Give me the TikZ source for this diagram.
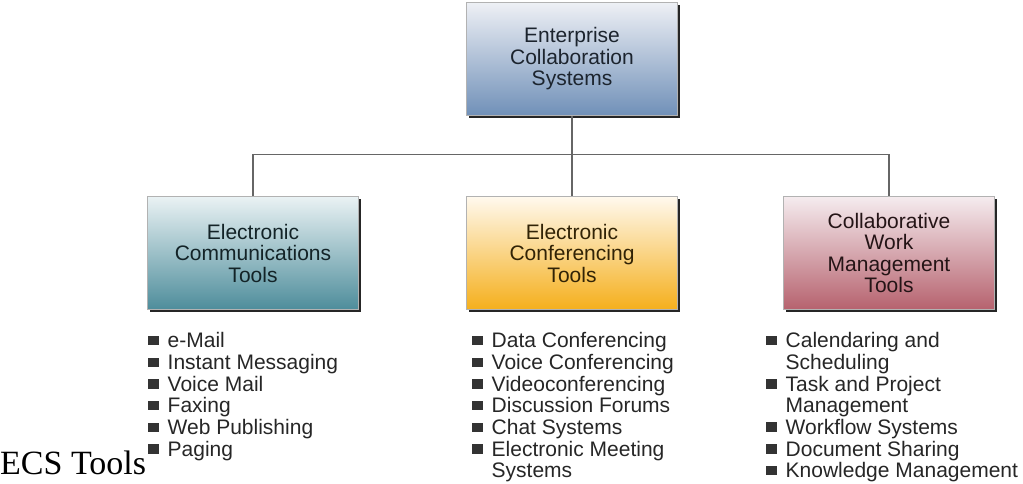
\documentclass[tikz,border=0pt]{standalone}
\usepackage{fontspec}
\setmainfont{Liberation Serif}
\setsansfont{Liberation Sans}
\usetikzlibrary{shadows}

\definecolor{ecstop}{HTML}{EEF0F5}
\definecolor{ecsbot}{HTML}{7090B8}
\definecolor{commtop}{HTML}{EAF2F4}
\definecolor{commbot}{HTML}{4E8D9B}
\definecolor{conftop}{HTML}{FFF9EE}
\definecolor{confbot}{HTML}{F5AF1C}
\definecolor{worktop}{HTML}{F5ECEF}
\definecolor{workbot}{HTML}{B6626E}

\newcommand{\sqbullet}{{\color{black!80}\rule[2.5pt]{10.5pt}{9.5pt}}}

\begin{document}
\begin{tikzpicture}[x=1pt, y=-1pt, box/.style={rectangle, draw=gray!60, line width=0.6pt, minimum width=211pt, minimum height=113pt, align=center, inner sep=0pt, font=\sffamily\fontsize{21}{21.5}\selectfont, drop shadow={shadow xshift=2.5pt, shadow yshift=-2.5pt, opacity=1, fill=black!85}}, itemlist/.style={anchor=north west, inner sep=0pt, font=\sffamily\fontsize{21}{21.5}\selectfont, text=black!85}, link/.style={draw=black!60, line width=1.4pt}]
      \useasboundingbox (0,0) rectangle (1023,483);

      \node[box, top color=ecstop, bottom color=ecsbot, text=ecsbot!25!black] (ecs) at (572,59) {Enterprise\\Collaboration\\Systems};
      \node[box, top color=commtop, bottom color=commbot, text=commbot!25!black] (comm) at (253,253) {Electronic\\Communications\\Tools};
      \node[box, top color=conftop, bottom color=confbot, text=confbot!20!black] (conf) at (572,253) {Electronic\\Conferencing\\Tools};
      \node[box, top color=worktop, bottom color=workbot, text=workbot!20!black] (work) at (889,253) {Collaborative\\Work\\Management\\Tools};

      % tree lines
      \draw[link] (ecs.south) -- (conf.north);
      \draw[link] (comm.north) -- ++(0,-42) -| (work.north);

      % tool lists
      \node[itemlist] (commlist) at (148,332.5) {\begin{tabular}{@{}l@{\hspace{9pt}}l@{}}
        \sqbullet & e-Mail\\
        \sqbullet & Instant Messaging\\
        \sqbullet & Voice Mail\\
        \sqbullet & Faxing\\
        \sqbullet & Web Publishing\\
        \sqbullet & Paging
      \end{tabular}};
      \node[itemlist] (conflist) at (472,332.5) {\begin{tabular}{@{}l@{\hspace{9pt}}l@{}}
        \sqbullet & Data Conferencing\\
        \sqbullet & Voice Conferencing\\
        \sqbullet & Videoconferencing\\
        \sqbullet & Discussion Forums\\
        \sqbullet & Chat Systems\\
        \sqbullet & Electronic Meeting\\
                  & Systems
      \end{tabular}};
      \node[itemlist] (worklist) at (766,332.5) {\begin{tabular}{@{}l@{\hspace{9pt}}l@{}}
        \sqbullet & Calendaring and\\
                  & Scheduling\\
        \sqbullet & Task and Project\\
                  & Management\\
        \sqbullet & Workflow Systems\\
        \sqbullet & Document Sharing\\
        \sqbullet & Knowledge Management
      \end{tabular}};

      \node[anchor=base west, inner sep=0pt, font=\fontsize{34}{38}\selectfont] (title) at (0,474) {ECS Tools};
    \end{tikzpicture}
\end{document}
